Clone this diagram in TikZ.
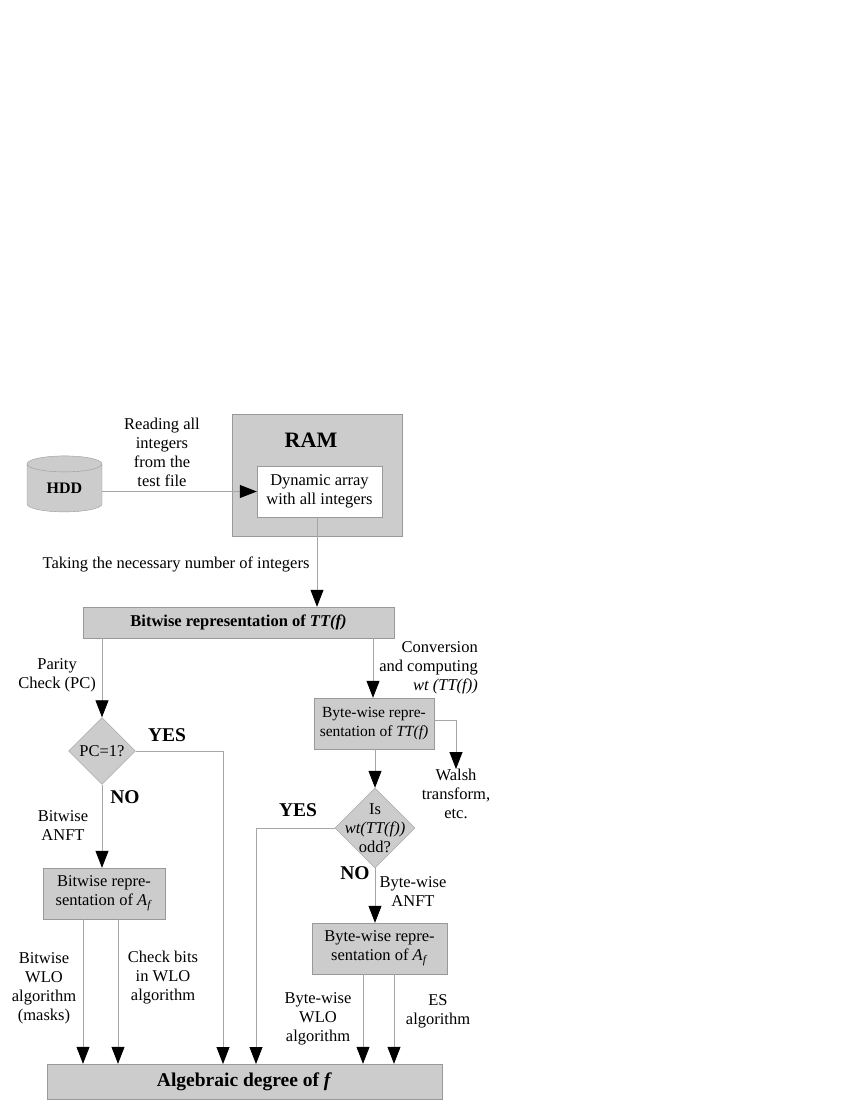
\documentclass[tikz,border=0pt]{standalone}
\usepackage{fontspec}
\setmainfont{Liberation Serif}
\usepackage{xcolor}
\usepackage{tikz}
\usetikzlibrary{shapes, shapes.geometric, arrows, arrows.meta, calc}
\definecolor{boxgray}{HTML}{CCCCCC}
\definecolor{bordergray}{HTML}{999999}
\definecolor{linegray}{HTML}{A6A6A6}
\tikzstyle{block} = [rectangle, draw=bordergray, fill=boxgray, text centered,
    align=center, inner sep=0pt, font=\fontsize{16.5}{19}\selectfont]
\tikzstyle{decision} = [diamond, draw=bordergray, fill=boxgray, inner sep=0pt,
    minimum width=67pt, minimum height=67pt]
\tikzstyle{note} = [align=center, inner sep=0pt, font=\fontsize{16.5}{19}\selectfont]
\tikzstyle{answer} = [inner sep=0pt, font=\fontsize{19.5}{22}\selectfont\bfseries]
\tikzstyle{line} = [draw=linegray, line width=0.8pt,
    -{Triangle[length=17pt, width=13pt, color=black]}]

\begin{document}
\begin{tikzpicture}[x=1pt, y=-1pt]
    \useasboundingbox (0,0) rectangle (850,1100);
    % Nodes
    \node [cylinder, shape border rotate=90, aspect=0.45, draw=bordergray, fill=boxgray,
        minimum width=75pt, minimum height=56pt, inner sep=0pt,
        font=\fontsize{16}{19}\selectfont\bfseries] (hdd) at (64.5,488) {HDD};
    \node [block, minimum width=170pt, minimum height=122pt] (ram) at (317,475) {};
    \node [inner sep=0pt, font=\fontsize{22}{26}\selectfont\bfseries] (ramname) at (311,440) {RAM};
    \node [block, fill=white, minimum width=125pt, minimum height=51pt] (array) at (319.5,491.5)
        {Dynamic array\\with all integers};
    \node [block, minimum width=311pt, minimum height=31pt, font=\fontsize{16.5}{19}\selectfont\bfseries]
        (tt) at (238.5,622.5) {Bitwise representation of \textit{TT(f)}};
    \node [decision] (pc) at (102,751) {};
    \node [note] (pctext) at (102,751) {PC=1?};
    \node [block, minimum width=120pt, minimum height=51pt, font=\fontsize{15.5}{19}\selectfont]
        (btt) at (374,723.5) {Byte-wise repre-\\sentation of \textit{TT(f)}};
    \node [decision, minimum width=80pt, minimum height=80pt] (wt) at (375,828) {};
    \node [note] (wttext) at (375,828) {Is\\\textit{wt(TT(f))}\\odd?};
    \node [block, minimum width=122pt, minimum height=51pt] (baf) at (104,893.5)
        {Bitwise repre-\\sentation of \textit{A}\textsubscript{\textit{f}}};
    \node [block, minimum width=135pt, minimum height=51pt] (byaf) at (379.5,948.5)
        {Byte-wise repre-\\sentation of \textit{A}\textsubscript{\textit{f}}};
    \node [block, minimum width=395pt, minimum height=35pt, font=\fontsize{19.5}{22}\selectfont\bfseries]
        (alg) at (244.5,1081.5) {Algebraic degree of \textit{f}};
    \node [note, anchor=north] (walsh) at (456,769) {Walsh\\transform,\\etc.};
    \coordinate (yesa) at (223,1064);
    \coordinate (yesb) at (256,1064);
    % Labels
    \node [note] (reading) at (162,452.5) {Reading all\\integers\\from the\\test file};
    \node [note] (taking) at (176,564) {Taking the necessary number of integers};
    \node [note, anchor=east] (parity) at (96,675) {Parity\\Check (PC)};
    \node [answer] (yes1) at (167,735) {YES};
    \node [answer] (no1) at (125,797) {NO};
    \node [note] (anft1) at (63,826) {Bitwise\\ANFT};
    \node [note, align=right, anchor=east] (conv) at (478,668) {Conversion\\and computing\\\textit{wt (TT(f))}};
    \node [answer] (yes2) at (298,810) {YES};
    \node [answer] (no2) at (355,873) {NO};
    \node [note] (anft2) at (413,892) {Byte-wise\\ANFT};
    \node [note] (bwlo) at (44,988) {Bitwise\\WLO\\algorithm\\(masks)};
    \node [note] (check) at (163,978) {Check bits\\in WLO\\algorithm};
    \node [note] (bywlo) at (318,1019) {Byte-wise\\WLO\\algorithm};
    \node [note] (es) at (438,1011) {ES\\algorithm};
    % Edges
    \path [line] (hdd.east |- array.west) -- (array.west);
    \path [line] ([xshift=-2.5pt]array.south) -- ([xshift=-2.5pt]array.south |- tt.north);
    \path [line] ([xshift=-1pt]btt.north |- tt.south) -- ([xshift=-1pt]btt.north);
    \path [line] (pc.north |- tt.south) -- (pc.north);
    \path [line] ([yshift=3.5pt]btt.east) -| (walsh.north);
    \path [line] ([xshift=1pt]btt.south) -- (wt.north);
    \path [line] (pc.east) -| (yesa);
    \path [line] (wt.west) -| (yesb);
    \path [line] (pc.south) -- (pc.south |- baf.north);
    \path [line] (wt.south) -- (wt.south |- byaf.north);
    \path [line] ([xshift=-21pt]baf.south) -- ([xshift=-21pt]baf.south |- alg.north);
    \path [line] ([xshift=14pt]baf.south) -- ([xshift=14pt]baf.south |- alg.north);
    \path [line] ([xshift=-16.5pt]byaf.south) -- ([xshift=-16.5pt]byaf.south |- alg.north);
    \path [line] ([xshift=14.5pt]byaf.south) -- ([xshift=14.5pt]byaf.south |- alg.north);
\end{tikzpicture}
\end{document}
